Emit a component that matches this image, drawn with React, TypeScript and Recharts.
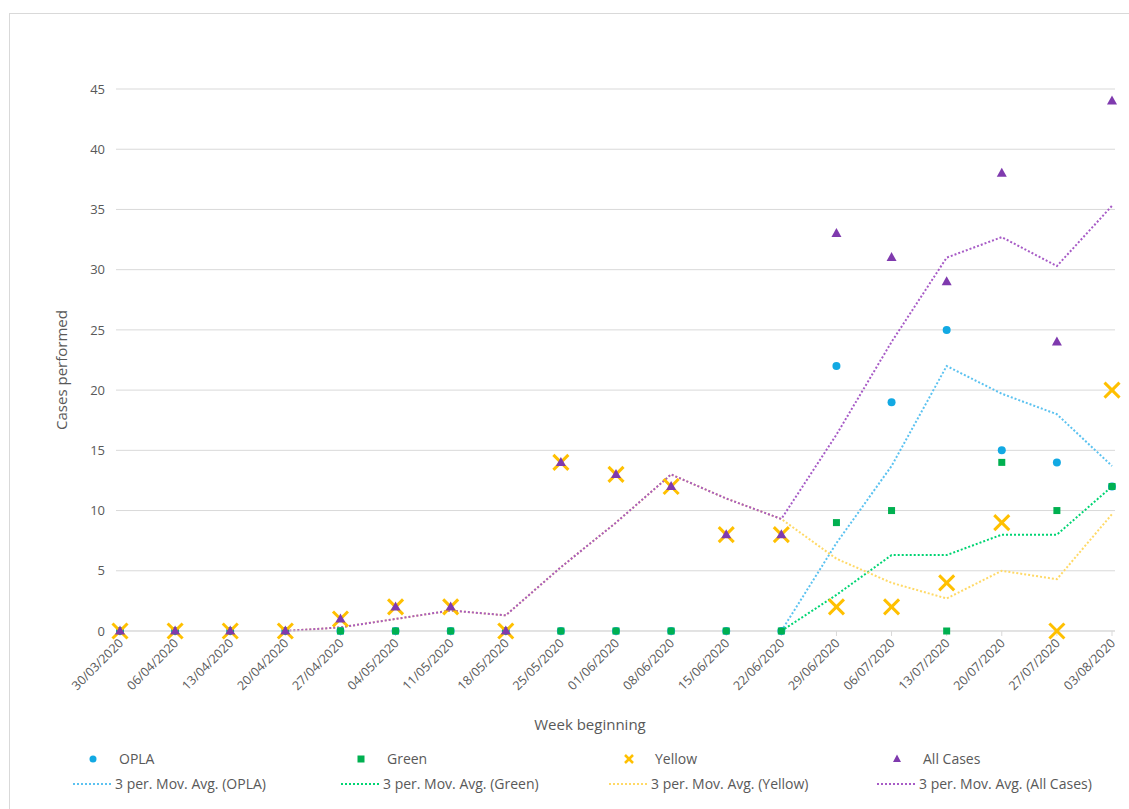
import React from 'react';
import {
  ComposedChart,
  Line,
  XAxis,
  YAxis,
  CartesianGrid,
  Label,
} from 'recharts';

const weeks = [
  '30/03/2020', '06/04/2020', '13/04/2020', '20/04/2020', '27/04/2020',
  '04/05/2020', '11/05/2020', '18/05/2020', '25/05/2020', '01/06/2020',
  '08/06/2020', '15/06/2020', '22/06/2020', '29/06/2020', '06/07/2020',
  '13/07/2020', '20/07/2020', '27/07/2020', '03/08/2020',
];

const opla = [0, 0, 0, 0, 0, 0, 0, 0, 0, 0, 0, 0, 0, 22, 19, 25, 15, 14, 12];
const green = [0, 0, 0, 0, 0, 0, 0, 0, 0, 0, 0, 0, 0, 9, 10, 0, 14, 10, 12];
const yellow = [0, 0, 0, 0, 1, 2, 2, 0, 14, 13, 12, 8, 8, 2, 2, 4, 9, 0, 20];
const allCases = [0, 0, 0, 0, 1, 2, 2, 0, 14, 13, 12, 8, 8, 33, 31, 29, 38, 24, 44];

// 3 period moving averages
const oplaAvg = [null, null, null, null, null, null, null, null, null, null, null, null, 0, 7.3, 13.7, 22, 19.7, 18, 13.7];
const greenAvg = [null, null, null, null, null, null, null, null, null, null, null, null, 0, 3, 6.3, 6.3, 8, 8, 12];
const yellowAvg = [null, null, null, 0, 0.3, 1, 1.7, 1.3, 5.3, 9, 13, 11, 9.3, 6, 4, 2.7, 5, 4.3, 9.7];
const allAvg = [null, null, null, 0, 0.3, 1, 1.7, 1.3, 5.3, 9, 13, 11, 9.3, 16.3, 24, 31, 32.7, 30.3, 35.3];

const yTicks = [0, 5, 10, 15, 20, 25, 30, 35, 40, 45];

const data = weeks.map((week, i) => ({
  week,
  opla: opla[i],
  green: green[i],
  yellow: yellow[i],
  allCases: allCases[i],
  oplaAvg: oplaAvg[i],
  greenAvg: greenAvg[i],
  yellowAvg: yellowAvg[i],
  allAvg: allAvg[i],
}));

const FONT = '"Open Sans", sans-serif';
const TEXT = '#595959';
const C_OPLA = '#12A9E3';
const C_GREEN = '#00B050';
const C_YELLOW = '#FFC000';
const C_PURPLE = '#7F3AAE';
const C_OPLA_AVG = '#5BC2F0';
const C_GREEN_AVG = '#00D473';
const C_YELLOW_AVG = '#FFD966';
const C_PURPLE_AVG = '#A75BC6';

const circleDot = (p: any) => {
  if (p.value == null || p.cx == null) return <g key={p.index} />;
  return <circle key={p.index} cx={p.cx} cy={p.cy} r={4} fill={C_OPLA} />;
};
const squareDot = (p: any) => {
  if (p.value == null || p.cx == null) return <g key={p.index} />;
  return <rect key={p.index} x={p.cx - 3.5} y={p.cy - 3.5} width={7} height={7} fill={C_GREEN} />;
};
const crossDot = (p: any) => {
  if (p.value == null || p.cx == null) return <g key={p.index} />;
  const s = 7.5;
  return (
    <g key={p.index} stroke={C_YELLOW} strokeWidth={3}>
      <line x1={p.cx - s} y1={p.cy - s} x2={p.cx + s} y2={p.cy + s} />
      <line x1={p.cx - s} y1={p.cy + s} x2={p.cx + s} y2={p.cy - s} />
    </g>
  );
};
const triangleDot = (p: any) => {
  if (p.value == null || p.cx == null) return <g key={p.index} />;
  const { cx, cy } = p;
  return (
    <polygon
      key={p.index}
      points={`${cx},${cy - 5.5} ${cx + 5},${cy + 3.5} ${cx - 5},${cy + 3.5}`}
      fill={C_PURPLE}
    />
  );
};

const WeekTick = ({ x, y, payload }: any) => {
  const ax = x + 4;
  const ay = y + 6;
  return (
    <text
      x={ax}
      y={ay}
      transform={`rotate(-45 ${ax} ${ay})`}
      textAnchor="end"
      fontSize={12.5}
      fill={TEXT}
      fontFamily={FONT}
    >
      {payload.value}
    </text>
  );
};

const legendRow1 = [
  { name: 'OPLA', marker: 'circle' },
  { name: 'Green', marker: 'square' },
  { name: 'Yellow', marker: 'cross' },
  { name: 'All Cases', marker: 'triangle' },
];
const legendRow2 = [
  { name: '3 per. Mov. Avg. (OPLA)', color: C_OPLA_AVG },
  { name: '3 per. Mov. Avg. (Green)', color: C_GREEN_AVG },
  { name: '3 per. Mov. Avg. (Yellow)', color: C_YELLOW_AVG },
  { name: '3 per. Mov. Avg. (All Cases)', color: C_PURPLE_AVG },
];

const LegendMarker = ({ kind }: { kind: string }) => {
  if (kind === 'circle') return <circle cx={8} cy={8} r={3.5} fill={C_OPLA} />;
  if (kind === 'square') return <rect x={4.5} y={4.5} width={7} height={7} fill={C_GREEN} />;
  if (kind === 'cross')
    return (
      <g stroke={C_YELLOW} strokeWidth={2.5}>
        <line x1={4} y1={4} x2={12} y2={12} />
        <line x1={4} y1={12} x2={12} y2={4} />
      </g>
    );
  return <polygon points="8,3.5 12,11 4,11" fill={C_PURPLE} />;
};

function ChartLegend() {
  const colStep = 268;
  const textLeft = 119;
  const textStyle: React.CSSProperties = {
    position: 'absolute',
    fontFamily: FONT,
    fontSize: 14,
    color: TEXT,
    lineHeight: '18px',
    whiteSpace: 'nowrap',
  };
  return (
    <div style={{ position: 'absolute', left: 0, top: 0 }}>
      {legendRow1.map((item, i) => (
        <React.Fragment key={item.name}>
          <svg
            width={16}
            height={16}
            style={{ position: 'absolute', left: textLeft + i * colStep - 34, top: 751 }}
          >
            <LegendMarker kind={item.marker} />
          </svg>
          <span style={{ ...textStyle, left: textLeft + i * colStep, top: 750 }}>{item.name}</span>
        </React.Fragment>
      ))}
      {legendRow2.map((item, i) => (
        <React.Fragment key={item.name}>
          <svg
            width={40}
            height={6}
            style={{ position: 'absolute', left: textLeft + i * colStep - 46, top: 781 }}
          >
            <line x1={0} y1={3} x2={38} y2={3} stroke={item.color} strokeWidth={2} strokeDasharray="2 2" />
          </svg>
          <span style={{ ...textStyle, left: textLeft + i * colStep - 4, top: 775 }}>{item.name}</span>
        </React.Fragment>
      ))}
    </div>
  );
}

export default function App() {
  return (
    <div
      style={{
        position: 'absolute',
        left: 0,
        top: 0,
        width: 1129,
        height: 809,
        overflow: 'hidden',
        background: '#fff',
      }}
    >
      <div
        style={{
          position: 'absolute',
          left: 9,
          top: 13,
          width: 1140,
          height: 820,
          border: '1px solid #d9d9d9',
        }}
      />
      <div style={{ position: 'absolute', left: 0, top: 0 }}>
        <ComposedChart
          width={1129}
          height={809}
          data={data}
          margin={{ top: 89, right: 14, left: 16, bottom: 118 }}
        >
          <CartesianGrid vertical={false} stroke="#d9d9d9" />
          <XAxis
            dataKey="week"
            interval={0}
            height={60}
            padding={{ left: 4, right: 3 }}
            axisLine={{ stroke: '#d9d9d9' }}
            tickLine={{ stroke: '#d9d9d9' }}
            tickSize={5}
            tick={<WeekTick />}
          >
            <Label
              content={() => (
                <text x={590} y={730} textAnchor="middle" fontSize={15} fill={TEXT} fontFamily={FONT}>
                  Week beginning
                </text>
              )}
            />
          </XAxis>
          <YAxis
            width={100}
            domain={[0, 45]}
            ticks={yTicks}
            interval={0}
            axisLine={false}
            tickLine={false}
            tickMargin={5}
            tick={{ fontSize: 13, fill: TEXT, fontFamily: FONT }}
          >
            <Label
              content={() => (
                <text
                  x={67}
                  y={370}
                  transform="rotate(-90 67 370)"
                  textAnchor="middle"
                  fontSize={15}
                  fill={TEXT}
                  fontFamily={FONT}
                >
                  Cases performed
                </text>
              )}
            />
          </YAxis>

          <Line dataKey="oplaAvg" stroke={C_OPLA_AVG} strokeWidth={2} strokeDasharray="2 2" dot={false} activeDot={false} isAnimationActive={false} />
          <Line dataKey="greenAvg" stroke={C_GREEN_AVG} strokeWidth={2} strokeDasharray="2 2" dot={false} activeDot={false} isAnimationActive={false} />
          <Line dataKey="yellowAvg" stroke={C_YELLOW_AVG} strokeWidth={2} strokeDasharray="2 2" dot={false} activeDot={false} isAnimationActive={false} />
          <Line dataKey="allAvg" stroke={C_PURPLE_AVG} strokeWidth={2} strokeDasharray="2 2" dot={false} activeDot={false} isAnimationActive={false} />

          <Line dataKey="opla" stroke="none" dot={circleDot} activeDot={false} isAnimationActive={false} />
          <Line dataKey="green" stroke="none" dot={squareDot} activeDot={false} isAnimationActive={false} />
          <Line dataKey="yellow" stroke="none" dot={crossDot} activeDot={false} isAnimationActive={false} />
          <Line dataKey="allCases" stroke="none" dot={triangleDot} activeDot={false} isAnimationActive={false} />
        </ComposedChart>
      </div>
      <ChartLegend />
    </div>
  );
}
